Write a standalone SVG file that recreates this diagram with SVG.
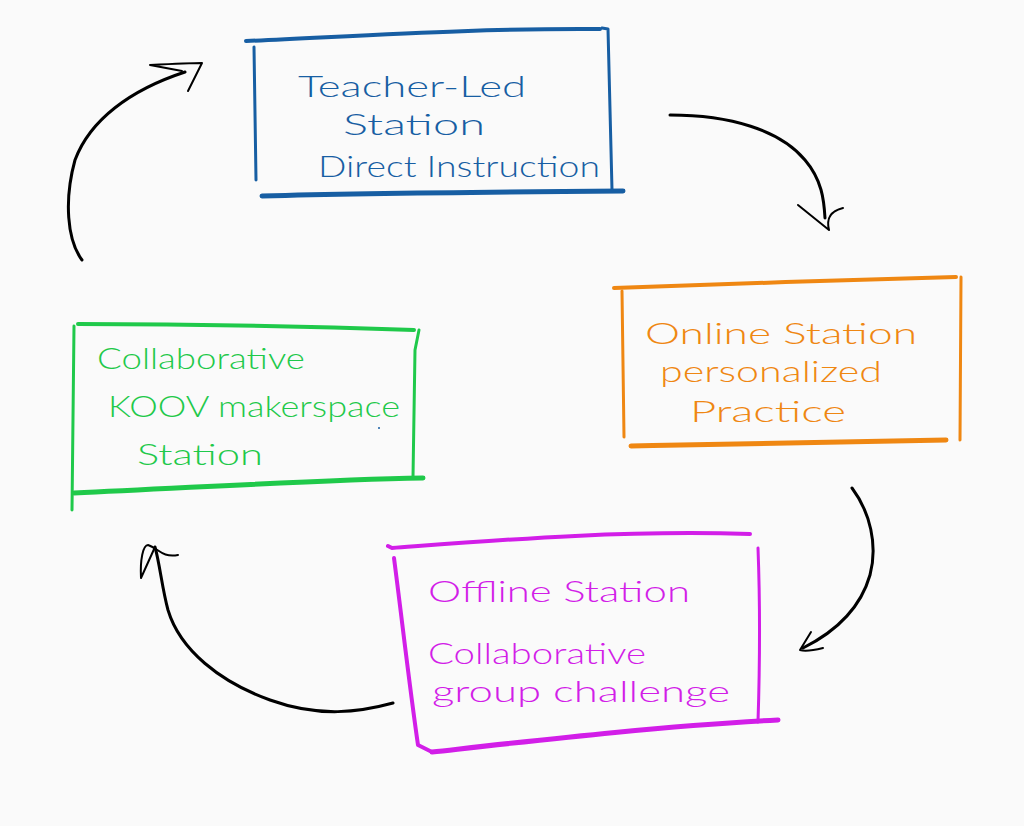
<svg xmlns="http://www.w3.org/2000/svg" width="1024" height="826" viewBox="0 0 1024 826">
<style>
.bg{fill:#fafafa}
.frame{fill:none;stroke-linecap:round;stroke-linejoin:round}
.blue{stroke:#175ea3}
.orange{stroke:#ef8712}
.green{stroke:#1fc94a}
.magenta{stroke:#d21ee8}
.t{font-family:Lato,"Open Sans","Liberation Sans",sans-serif;font-weight:300;font-size:30px}
.tb{fill:#175ea3}
.to{fill:#ef8712}
.tg{fill:#1fc94a}
.tm{fill:#d21ee8}
.arr{fill:none;stroke:#000;stroke-linecap:round;stroke-linejoin:round}
</style>
<rect class="bg" x="0" y="0" width="1024" height="826"/>

<g id="node-teacher">
<path class="frame blue" stroke-width="4" d="M246,41 C360,36 480,28 600,29"/>
<path class="frame blue" stroke-width="3" d="M254,47 L256,180"/>
<path class="frame blue" stroke-width="3" d="M602,28 L608,29 L612,190"/>
<path class="frame blue" stroke-width="5" d="M262,196 C380,193 500,192 623,191"/>
<text class="t tb" x="298" y="97" textLength="228" lengthAdjust="spacingAndGlyphs">Teacher-Led</text>
<text class="t tb" x="343" y="135" textLength="142" lengthAdjust="spacingAndGlyphs">Station</text>
<text class="t tb" x="318" y="177" textLength="282" lengthAdjust="spacingAndGlyphs">Direct Instruction</text>
</g>

<g id="node-online">
<path class="frame orange" stroke-width="4" d="M614,288 C730,284 840,280 956,277"/>
<path class="frame orange" stroke-width="3" d="M622,291 L624,437"/>
<path class="frame orange" stroke-width="3" d="M961,277 L960,440"/>
<path class="frame orange" stroke-width="5" d="M631,446 C740,444 850,442 946,440"/>
<text class="t to" x="645" y="344" textLength="272" lengthAdjust="spacingAndGlyphs">Online Station</text>
<text class="t to" x="660" y="382" textLength="222" lengthAdjust="spacingAndGlyphs">personalized</text>
<text class="t to" x="690" y="422" textLength="156" lengthAdjust="spacingAndGlyphs">Practice</text>
</g>

<g id="node-makerspace">
<path class="frame green" stroke-width="4" d="M78,324 C190,324 300,326 414,330"/>
<path class="frame green" stroke-width="3" d="M74,326 L72,510"/>
<path class="frame green" stroke-width="3" d="M419,330 L415,350 L413,477"/>
<path class="frame green" stroke-width="5" d="M74,493 C190,488 310,480 423,478"/>
<text class="t tg" x="97" y="369" textLength="208" lengthAdjust="spacingAndGlyphs">Collaborative</text>
<text class="t tg" x="108" y="417" textLength="292" lengthAdjust="spacingAndGlyphs">KOOV makerspace</text>
<text class="t tg" x="137" y="465" textLength="126" lengthAdjust="spacingAndGlyphs">Station</text>
<circle cx="379" cy="428" r="1" fill="#175ea3"/>
</g>

<g id="node-offline">
<path class="frame magenta" stroke-width="4" d="M388,546 L392,548 C500,540 620,530 750,534"/>
<path class="frame magenta" stroke-width="4" d="M394,558 C402,620 410,690 418,745 L432,752"/>
<path class="frame magenta" stroke-width="3" d="M758,548 C760,600 760,660 758,722"/>
<path class="frame magenta" stroke-width="5" d="M432,752 C540,740 660,726 778,720"/>
<text class="t tm" x="428" y="602" textLength="262" lengthAdjust="spacingAndGlyphs">Offline Station</text>
<text class="t tm" x="428" y="664" textLength="218" lengthAdjust="spacingAndGlyphs">Collaborative</text>
<text class="t tm" x="432" y="702" textLength="298" lengthAdjust="spacingAndGlyphs">group challenge</text>
</g>

<g id="connectors">
<path class="arr" stroke-width="3" d="M82,260 C67,240 64,200 75,160 C90,120 130,90 185,72"/>
<path class="arr" stroke-width="2" d="M150,65 L182,71 M150,65 C170,64 190,63 202,63 L188,91"/>

<path class="arr" stroke-width="3" d="M670,115 C730,115 780,130 805,160 C822,180 824,200 825,218"/>
<path class="arr" stroke-width="2" d="M798,205 L829,230 C827,222 827,212 843,208"/>

<path class="arr" stroke-width="3" d="M852,488 C870,512 878,545 870,575 C860,610 835,632 803,648"/>
<path class="arr" stroke-width="2" d="M811,632 L800,650 C806,652 815,650 823,648"/>

<path class="arr" stroke-width="3" d="M393,703 C360,712 320,718 270,700 C220,682 180,650 168,610 C162,588 160,565 155,547"/>
<path class="arr" stroke-width="2" d="M155,547 L141,578 C140,560 143,545 148,545 C158,548 162,558 178,555"/>
</g>
</svg>
